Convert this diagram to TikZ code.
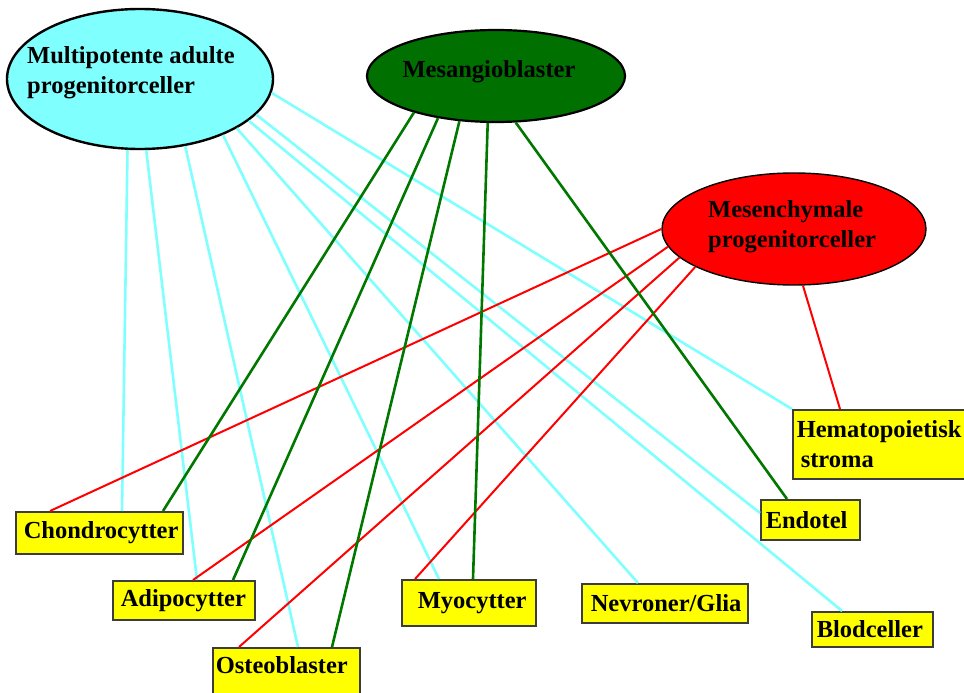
\documentclass[tikz,border=0pt]{standalone}
\usepackage{fontspec}
\setmainfont{Liberation Serif}
\usetikzlibrary{shapes.geometric}
\definecolor{mapcfill}{RGB}{128,255,255}
\definecolor{mapcline}{RGB}{128,255,255}
\definecolor{mesfill}{RGB}{0,112,0}
\definecolor{mesline}{RGB}{0,120,0}
\definecolor{mpcred}{RGB}{255,0,0}
\definecolor{cellyellow}{RGB}{255,255,0}
\definecolor{cellframe}{RGB}{60,60,60}
\begin{document}
\begin{tikzpicture}[x=1pt,y=-1pt,
  every node/.style={font=\fontsize{24.5}{30}\selectfont\bfseries},
  sourceell/.style={ellipse, draw=black, inner sep=0pt},
  labeltext/.style={inner sep=0pt, align=left},
  cellbox/.style={draw=cellframe, fill=cellyellow, line width=1.5pt,
    anchor=north west, align=left, inner ysep=0pt},
  cyanlink/.style={draw=mapcline, line width=2.6pt},
  greenlink/.style={draw=mesline, line width=2.6pt},
  redlink/.style={draw=mpcred, line width=2pt}]
\useasboundingbox[fill=white] (0,0) rectangle (964,693);

% progenitor populations
\node[sourceell, fill=mapcfill, line width=2.4pt,
  minimum width=266pt, minimum height=140pt] (mapc) at (140,79) {};
\node[labeltext, anchor=west] (mapctext) at (27,73)
  {Multipotente adulte\\progenitorceller};

\node[sourceell, fill=mesfill, line width=2.2pt,
  minimum width=258pt, minimum height=92pt] (mesang) at (496,76) {};
\node[labeltext] (mesangtext) at (489,72) {Mesangioblaster};

\node[sourceell, fill=mpcred, line width=1.4pt,
  minimum width=264pt, minimum height=112pt] (mpc) at (794,229) {};
\node[labeltext, anchor=west] (mpctext) at (708,227)
  {Mesenchymale\\progenitorceller};

% differentiated cell types
\node[cellbox, minimum width=167pt, minimum height=42pt, inner xsep=8pt,
  text width=151pt] (chondro) at (15,511) {Chondrocytter};
\node[cellbox, minimum width=142pt, minimum height=39pt, inner xsep=8pt,
  text width=126pt] (adipo) at (112,580) {Adipocytter};
\node[cellbox, inner xsep=3pt, text width=141pt,
  text height=26pt, text depth=24pt] (osteo) at (212,647) {Osteoblaster};
\node[cellbox, minimum width=134pt, minimum height=46pt, inner xsep=16pt,
  text width=102pt] (myo) at (401,579) {Myocytter};
\node[cellbox, minimum width=166pt, minimum height=39pt, inner xsep=9pt,
  text width=148pt] (nevro) at (581,583) {Nevroner/Glia};
\node[cellbox, minimum width=121pt, minimum height=35pt, inner xsep=5pt,
  text width=111pt] (blod) at (811,611) {Blodceller};
\node[cellbox, minimum width=99pt, minimum height=40pt, inner xsep=5pt,
  text width=89pt] (endo) at (760,499) {Endotel};
\node[cellbox, minimum width=190pt, minimum height=69pt, inner xsep=4pt,
  text width=182pt] (hemato) at (792,409) {Hematopoietisk\\\hspace*{4pt}stroma};

% multipotent adult progenitor cells
\draw[cyanlink] (mapc.-100.7) -- ([xshift=107pt]chondro.north west);
\draw[cyanlink] (mapc.-85.9) -- ([xshift=85pt]adipo.north west);
\draw[cyanlink] (mapc.-56.9) -- ([xshift=86pt]osteo.north west);
\draw[cyanlink] (mapc.-34.7) -- ([xshift=38pt]myo.north west);
\draw[cyanlink] (mapc.-27.3) -- ([xshift=57pt]nevro.north west);
\draw[cyanlink] (mapc.-21.7) -- ([xshift=31pt]blod.north west);
\draw[cyanlink] (mapc.-17.1) -- ([yshift=-14pt]endo.north west);
\draw[cyanlink] (mapc.-6.9) -- (hemato.north west);

% mesenchymal progenitor cells
\draw[redlink] (mpc.180) -- ([xshift=35pt]chondro.north west);
\draw[redlink] (mpc.-172.9) -- ([xshift=81pt]adipo.north west);
\draw[redlink] (mpc.-166.1) -- ([xshift=27pt]osteo.north west);
\draw[redlink] (mpc.-159.9) -- ([xshift=14pt]myo.north west);
\draw[redlink] (mpc.-81.9) -- ([xshift=48pt]hemato.north west);

% mesangioblasts
\draw[greenlink] (mesang.-156) -- ([xshift=148pt]chondro.north west);
\draw[greenlink] (mesang.-144.7) -- ([xshift=121pt]adipo.north west);
\draw[greenlink] (mesang.-129.9) -- ([xshift=120pt]osteo.north west);
\draw[greenlink] (mesang.-100.1) -- ([xshift=72pt]myo.north west);
\draw[greenlink] (mesang.-67.6) -- ([xshift=27pt]endo.north west);
\end{tikzpicture}
\end{document}
